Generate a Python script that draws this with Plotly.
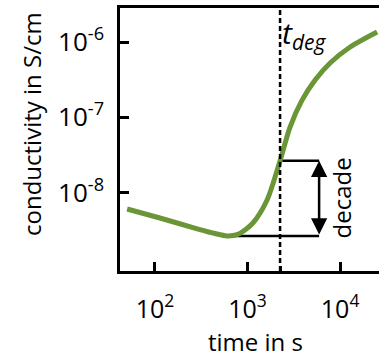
import numpy as np
import plotly.graph_objects as go

# data
time_s = [50, 113, 292, 445, 600, 770, 939, 1146, 1625, 2245, 2878, 3880, 5370, 7800, 12830, 25100]
conductivity = [6.04e-9, 4.58e-9, 3.27e-9, 2.85e-9, 2.65e-9, 2.75e-9, 3.18e-9, 3.94e-9, 7.95e-9,
                2.65e-8, 7.42e-8, 1.69e-7, 3.13e-7, 5.26e-7, 8.59e-7, 1.36e-6]
t_deg = 2245
t_min = 600
sigma_min = 2.65e-9
sigma_deg = 2.65e-8
t_arrow = 5930
x_tickvals = [1e2, 1e3, 1e4]
x_ticktext = ["10<sup>2</sup>", "10<sup>3</sup>", "10<sup>4</sup>"]
y_tickvals = [1e-8, 1e-7, 1e-6]
y_ticktext = ["10<sup>-8</sup>", "10<sup>-7</sup>", "10<sup>-6</sup>"]

FONT = "Open Sans"
GREEN = "#6b9637"

fig = go.Figure()
# decade helper lines
fig.add_trace(go.Scatter(x=[t_min, t_arrow], y=[sigma_min, sigma_min], mode="lines",
                         line=dict(color="black", width=2.5), showlegend=False, hoverinfo="skip"))
fig.add_trace(go.Scatter(x=[t_deg, t_arrow], y=[sigma_deg, sigma_deg], mode="lines",
                         line=dict(color="black", width=2.5), showlegend=False, hoverinfo="skip"))
fig.add_trace(go.Scatter(x=time_s, y=conductivity, mode="lines",
                         line=dict(color=GREEN, width=5, shape="spline", smoothing=0.8),
                         showlegend=False, hoverinfo="skip"))

fig.add_shape(type="line", xref="x", yref="paper", x0=t_deg, x1=t_deg, y0=0, y1=1,
              line=dict(color="black", width=2.5, dash="5px,3px"))

fig.add_annotation(x=np.log10(t_arrow), y=np.log10(sigma_deg), ax=np.log10(t_arrow), ay=np.log10(sigma_min),
                   axref="x", ayref="y", xref="x", yref="y", text="", showarrow=True,
                   arrowside="end+start", arrowhead=2, arrowsize=1.3, arrowwidth=2.5, arrowcolor="black")
fig.add_annotation(x=np.log10(t_arrow), y=(np.log10(sigma_deg) + np.log10(sigma_min)) / 2,
                   xref="x", yref="y", text="decade", textangle=-90, showarrow=False,
                   xshift=22, font=dict(family=FONT, size=24, color="black"))
fig.add_annotation(x=np.log10(t_deg), y=1, xref="x", yref="paper", xanchor="left", yanchor="top",
                   text="<i>t</i><sub><i>deg</i></sub>", showarrow=False, xshift=0, yshift=-2,
                   font=dict(family=FONT, size=30, color="black"))
fig.add_annotation(x=255, y=341, xref="paper", yref="paper", text="time in s", showarrow=False,
                   font=dict(family=FONT, size=24, color="black"))
fig.add_annotation(x=31, y=124, xref="paper", yref="paper", text="conductivity in S/cm",
                   textangle=-90, showarrow=False,
                   font=dict(family=FONT, size=24, color="black"))

# convert pixel positions of the two titles to paper coordinates
L, R, T, B, W, H = 120, 0, 8, 87, 379, 358
pw, ph = W - L - R, H - T - B
for ann in fig.layout.annotations[-2:]:
    px, py = ann.x, ann.y
    ann.x = (px - L) / pw
    ann.y = (H - B - py) / ph
    ann.xanchor = "center"
    ann.yanchor = "middle"

fig.update_xaxes(type="log", range=[1.622, 4.42], tickvals=x_tickvals, ticktext=x_ticktext,
                 ticks="inside", ticklen=9, tickwidth=2.5, tickcolor="black",
                 showline=True, linewidth=2.5, linecolor="black", mirror=True,
                 showgrid=False, zeroline=False, ticklabelstandoff=14,
                 minor=dict(tickvals=[t_deg], ticks="inside", ticklen=5, tickwidth=2.5, tickcolor="black", showgrid=False),
                 tickfont=dict(family=FONT, size=25, color="black"))
fig.update_yaxes(type="log", range=[-9.043, -5.548], tickvals=y_tickvals, ticktext=y_ticktext,
                 ticks="inside", ticklen=9, tickwidth=2.5, tickcolor="black",
                 showline=True, linewidth=2.5, linecolor="black",
                 showgrid=False, zeroline=False, ticklabelstandoff=8,
                 tickfont=dict(family=FONT, size=26, color="black"))

fig.update_layout(width=W, height=H, margin=dict(l=L, r=R, t=T, b=B),
                  plot_bgcolor="white", paper_bgcolor="white")
fig.write_html("out.html")
